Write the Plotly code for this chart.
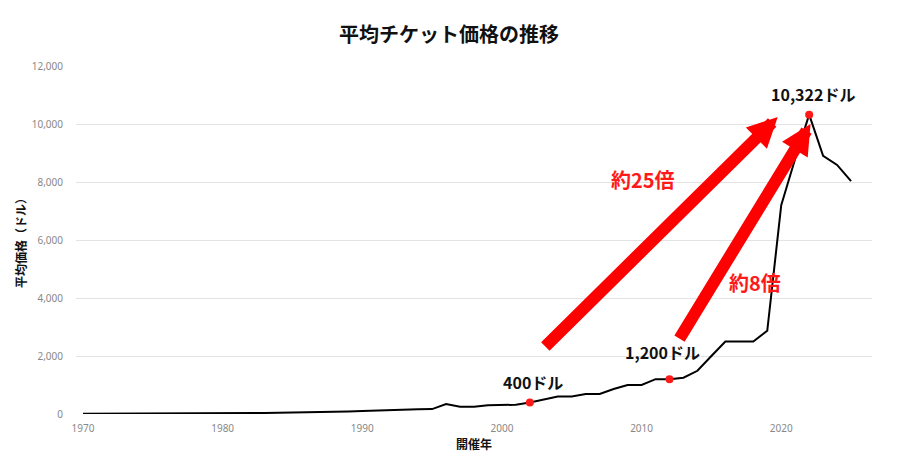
import plotly.graph_objects as go

years = list(range(1970, 2026))
prices = [10, 10, 10, 10, 12, 12, 14, 18, 20, 22,
          25, 28, 30, 35, 40, 45, 50, 60, 75, 85,
          100, 120, 130, 150, 160, 170, 340, 250, 250, 300,
          320, 320, 400, 500, 600, 600, 690, 690, 860, 1000,
          1000, 1200, 1200, 1250, 1490, 2000, 2500, 2500, 2500, 2870,
          7200, 8800, 10322, 8900, 8590, 8030]

hl_years = [2002, 2012, 2022]
hl_prices = [400, 1200, 10322]
hl_labels = ["400ドル", "1,200ドル", "10,322ドル"]

arrows = [  # (tail_x, tail_y, head_x, head_y)
    (2003.0, 2280, 2019.75, 10240),
    (2012.65, 2550, 2022.1, 10000),
]
ratio_labels = [("約25倍", 2010.1, 8070), ("約8倍", 2018.1, 4520)]

FONT = "Noto Sans CJK JP"

fig = go.Figure()
fig.add_trace(go.Scatter(x=years, y=prices, mode="lines",
                         line=dict(color="black", width=2), hoverinfo="skip"))
fig.add_trace(go.Scatter(x=hl_years, y=hl_prices, mode="markers",
                         marker=dict(color="#ff1a1a", size=8), hoverinfo="skip"))

ann = []
for (tx, ty, hx, hy) in arrows:
    ann.append(dict(x=hx, y=hy, ax=tx, ay=ty, xref="x", yref="y", axref="x", ayref="y",
                    text="", showarrow=True, arrowhead=2, arrowsize=0.5,
                    arrowwidth=12, arrowcolor="#ff0000"))
for (t, x, y) in ratio_labels:
    ann.append(dict(x=x, y=y, xref="x", yref="y", text=f"<b>{t}</b>", showarrow=False,
                    font=dict(family=FONT, size=20, color="#ff1a1a")))
offsets = [(0.2, 700), (-0.5, 950), (0.3, 700)]
for (xv, yv, t, (dx, dy)) in zip(hl_years, hl_prices, hl_labels, offsets):
    ann.append(dict(x=xv + dx, y=yv + dy, xref="x", yref="y", text=f"<b>{t}</b>",
                    showarrow=False, font=dict(family=FONT, size=16, color="#111")))

fig.update_layout(
    width=898, height=461,
    margin=dict(l=76, r=26, t=66, b=47),
    paper_bgcolor="white", plot_bgcolor="white",
    showlegend=False,
    font=dict(family=FONT),
    title=dict(text="<b>平均チケット価格の推移</b>", x=0.5, xanchor="center",
               y=0.925, yanchor="middle", font=dict(family=FONT, size=20, color="#111")),
    xaxis=dict(range=[1969.5, 2026.5], tickvals=[1970, 1980, 1990, 2000, 2010, 2020],
               showgrid=False, zeroline=False, showline=False,
               ticks="outside", ticklen=5, tickcolor="rgba(0,0,0,0)",
               tickfont=dict(family="Noto Sans", size=10, color="#888"),
               title=dict(text="<b>開催年</b>", font=dict(family=FONT, size=12, color="#111"),
                          standoff=6)),
    yaxis=dict(range=[0, 12000], dtick=2000, tickformat=",d",
               showgrid=True, gridcolor="#e3e3e3", gridwidth=1, zeroline=False,
               ticks="outside", ticklen=10, tickcolor="rgba(0,0,0,0)",
               tickfont=dict(family="Noto Sans", size=10, color="#888"),
               title=dict(text="<b>平均価格（ドル）</b>", font=dict(family=FONT, size=12, color="#111"),
                          standoff=2)),
    annotations=ann,
)
fig.write_html("out.html")
